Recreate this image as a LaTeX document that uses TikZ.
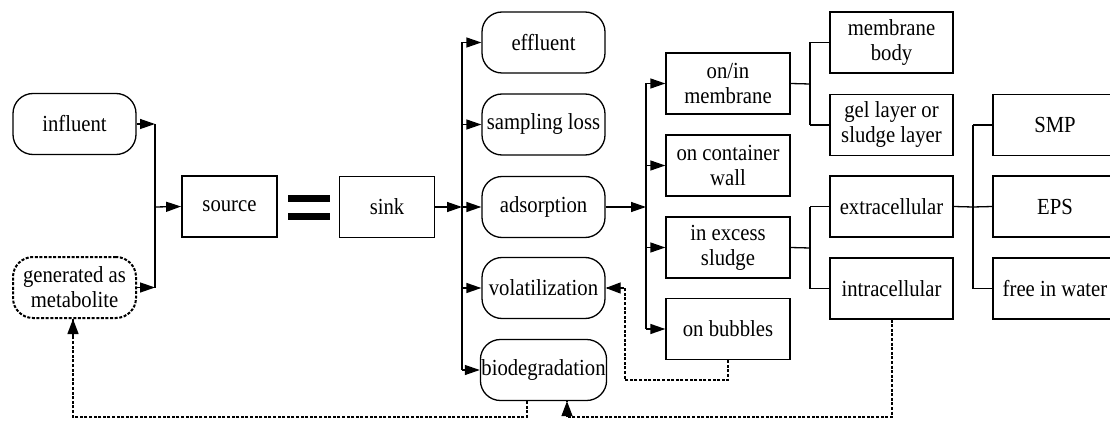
\documentclass[tikz,border=0pt]{standalone}
\usepackage{fontspec}
\setmainfont{Liberation Serif}
\newfontfamily\tnr{Liberation Serif}[FakeStretch=0.9]
\usetikzlibrary{arrows.meta}
\begin{document}
\begin{tikzpicture}[x=1pt,y=-1pt,
  every node/.style={font=\tnr\fontsize{23}{25}\selectfont, align=center, inner sep=1pt},
  rbox/.style={draw, line width=1.3pt, rounded corners=20pt, minimum width=123pt, minimum height=61pt},
  sbox/.style={draw, line width=1.3pt, minimum width=123pt, minimum height=61pt},
  bbox/.style={draw, line width=1.8pt, minimum width=95pt, minimum height=61pt},
  dbox/.style={rbox, line width=2pt, dash pattern=on 3pt off 1.6pt},
  ln/.style={line width=1.3pt},
  arr/.style={ln, -{Triangle[length=15pt,width=10pt]}},
  dsh/.style={line width=2pt, dash pattern=on 3pt off 1.6pt},
  tip/.style={line width=1.3pt, solid, -{Triangle[length=15pt,width=11pt]}}
]
\useasboundingbox (0,0) rectangle (1110,422);
\clip (0,0) rectangle (1110,422);
\fill[white] (0,0) rectangle (1110,422);

% left
\node[rbox] (influent) at (74.5,124) {influent};
\node[dbox] (gen) at (74.5,287.5) {generated as\\metabolite};
\node[bbox] (source) at (229.5,206.5) {source};
\node[bbox] (sink) at (387,207) {sink};
\fill (288,195) rectangle (330,202);
\fill (288,213) rectangle (330,220);

% second column
\node[rbox] (effluent) at (543.5,42.5) {effluent};
\node[rbox] (sampling) at (543.5,124.5) {sampling loss};
\node[rbox] (adsorption) at (543.5,207) {adsorption};
\node[rbox] (volat) at (543.5,288) {volatilization};
\node[rbox] (biodeg) at (543.5,370) {biodegradation};

% third column
\node[sbox, minimum width=124pt] (onin) at (728,83.5) {on/in\\membrane};
\node[sbox, minimum width=124pt] (wall) at (728,165.5) {on container\\wall};
\node[sbox, minimum width=124pt] (excess) at (728,247.5) {in excess\\sludge};
\node[sbox, minimum width=124pt] (bubbles) at (728,329) {on bubbles};

% fourth column
\node[sbox] (mbody) at (891.5,42.5) {membrane\\body};
\node[sbox] (gel) at (891.5,125) {gel layer or\\sludge layer};
\node[sbox] (extra) at (891.5,206.5) {extracellular};
\node[sbox] (intra) at (891.5,288.5) {intracellular};

% fifth column
\node[sbox, minimum width=124pt] (smp) at (1055,125) {SMP};
\node[sbox, minimum width=124pt] (eps) at (1055,206.5) {EPS};
\node[sbox, minimum width=124pt] (free) at (1055,288.5) {free in water};

% bus coordinates
\coordinate (b1) at (155,207);
\coordinate (b2) at (462,207);
\coordinate (b3) at (646,207);
\coordinate (b4) at (810,84);
\coordinate (b5) at (810,248);
\coordinate (b6) at (973,207);

% source side
\draw[arr] (influent.east) -- (influent.east -| b1);
\draw[arr] (gen.east) -- (gen.east -| b1);
\draw[ln] (influent.east -| b1) -- (gen.east -| b1);
\draw[arr] (b1) -- (source.west);

% sink side
\draw[arr] (sink.east) -- (b2);
\draw[ln] (effluent.west -| b2) -- (biodeg.west -| b2);
\foreach \n in {effluent,sampling,adsorption,volat,biodeg}
  \draw[arr] (\n.west -| b2) -- (\n.west);

% adsorption
\draw[arr] (adsorption.east) -- (b3);
\draw[ln] (onin.west -| b3) -- (bubbles.west -| b3);
\foreach \n in {onin,wall,excess,bubbles}
  \draw[arr] (\n.west -| b3) -- (\n.west);

% membrane
\draw[ln] (onin.east) -- (b4);
\draw[ln] (mbody.west -| b4) -- (gel.west -| b4);
\draw[ln] (mbody.west -| b4) -- (mbody.west);
\draw[ln] (gel.west -| b4) -- (gel.west);

% sludge
\draw[ln] (excess.east) -- (b5);
\draw[ln] (extra.west -| b5) -- (intra.west -| b5);
\draw[ln] (extra.west -| b5) -- (extra.west);
\draw[ln] (intra.west -| b5) -- (intra.west);

% extracellular
\draw[ln] (extra.east) -- (b6);
\draw[ln] (smp.west -| b6) -- (free.west -| b6);
\draw[ln] (smp.west -| b6) -- (smp.west);
\draw[ln] (b6) -- (eps.west);
\draw[ln] (free.west -| b6) -- (free.west);

% dashed feedbacks
\coordinate (d1) at (728,380);
\coordinate (d2) at (625,380);
\coordinate (d3) at (622,288);
\draw[dsh] (bubbles.south) -- (d1) -- (d2) -- (d2 |- volat.east) -- (volat.east);
\draw[tip] (d3) -- (volat.east);

\coordinate (e1) at (527,417);
\coordinate (e2) at (73,417);
\coordinate (e3) at (73,336);
\draw[dsh] (biodeg.south -| e1) -- (e1) -- (e2) -- (e2 |- gen.south);
\draw[tip] (e3) -- (e3 |- gen.south);

\coordinate (f1) at (892,417);
\coordinate (f2) at (567,417);
\draw[dsh] (intra.south -| f1) -- (f1) -- (f2) -- (f2 |- biodeg.south);
\draw[tip] (f2) -- (f2 |- biodeg.south);
\end{tikzpicture}
\end{document}
